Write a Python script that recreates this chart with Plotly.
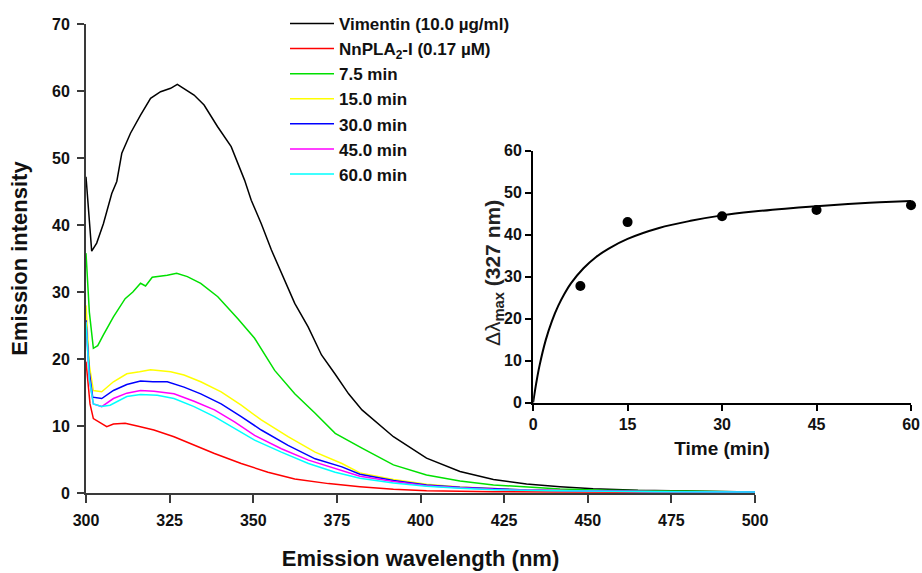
import plotly.graph_objects as go

# ---------------- main spectra data ----------------
wl_vim = [300, 301, 301.7, 303.2, 305.2, 307.7, 309.2, 310.7, 313.3, 316.3, 319.3, 322.3, 325.3, 327.3,
          329.8, 332.3, 335.3, 339.3, 343.4, 347.4, 349.4, 352.4, 355.4, 359.4, 362.4, 366.4, 370.4,
          374.4, 378.5, 382.5, 391.9, 401.8, 411.8, 421.8, 431.7, 441.7, 451.6, 465, 480, 500]
int_vim = [47.2, 40.0, 36.1, 37.3, 40.2, 44.7, 46.5, 50.7, 53.7, 56.4, 58.9, 59.9, 60.4, 61.0,
           60.2, 59.4, 57.9, 54.7, 51.7, 46.7, 43.7, 40.2, 36.3, 31.8, 28.3, 24.8, 20.6,
           17.8, 14.8, 12.4, 8.4, 5.2, 3.2, 2.0, 1.34, 0.95, 0.65, 0.4, 0.25, 0.15]

wl_pla = [300, 301.2, 302.2, 304.2, 306.2, 308.2, 311.7, 315.3, 320.3, 326.3, 332.3, 338.4, 346.4,
          354.4, 362.4, 372.5, 381.9, 391.9, 401.8, 411.8, 421.8, 440, 460, 480, 500]
int_pla = [19.6, 13.3, 11.1, 10.5, 9.9, 10.3, 10.4, 10.0, 9.4, 8.4, 7.1, 5.9, 4.4,
           3.1, 2.1, 1.4, 0.95, 0.55, 0.35, 0.25, 0.2, 0.15, 0.1, 0.1, 0.1]

wl_t75 = [300, 301, 302.2, 303.5, 305.2, 308.2, 311.7, 314, 316.3, 317.8, 319.8, 324.3, 327.1, 330.3,
          334.3, 339.4, 345.4, 350.4, 356.4, 362.4, 368.5, 374.5, 382.5, 391.9, 401.8, 411.8, 421.8,
          431.7, 441.7, 455, 470, 485, 500]
int_t75 = [35.8, 27.0, 21.6, 22.0, 23.6, 26.3, 29.0, 30.0, 31.3, 30.9, 32.2, 32.5, 32.8, 32.3,
           31.3, 29.3, 26.0, 23.1, 18.3, 14.8, 11.9, 8.9, 6.7, 4.2, 2.7, 1.8, 1.2,
           0.85, 0.6, 0.4, 0.3, 0.2, 0.15]

wl_t15 = [300, 301, 302.2, 304.7, 308.2, 312.2, 316, 319.3, 325.3, 329.3, 334.3, 340.4, 346.4, 352.4,
          360.4, 368.5, 376.5, 381.9, 391.9, 401.8, 411.8, 421.8, 431.7, 445, 460, 480, 500]
int_t15 = [28.0, 19.0, 15.3, 15.1, 16.6, 17.8, 18.1, 18.4, 18.1, 17.6, 16.6, 15.1, 13.1, 10.9,
           8.4, 6.1, 4.4, 3.0, 2.0, 1.3, 0.9, 0.65, 0.45, 0.35, 0.25, 0.2, 0.15]

wl_t30 = [300, 301, 302, 304.7, 308.2, 312.2, 316.3, 320, 324.3, 329.3, 334.3, 340.4, 346.4, 352.4,
          360.4, 368.5, 376.5, 381.9, 391.9, 401.8, 411.8, 421.8, 431.7, 445, 460, 480, 500]
int_t30 = [25.8, 18.0, 14.3, 14.1, 15.3, 16.2, 16.7, 16.6, 16.6, 15.8, 14.8, 13.3, 11.4, 9.4,
           7.1, 5.1, 3.9, 2.8, 1.85, 1.2, 0.85, 0.6, 0.45, 0.35, 0.25, 0.2, 0.15]

wl_t45 = [300, 301, 302.2, 304.7, 308.2, 312.2, 316.3, 320.3, 326.3, 332.3, 338.4, 344.4, 350.4,
          358.4, 366.5, 374.5, 381.9, 391.9, 401.8, 411.8, 421.8, 435, 450, 470, 500]
int_t45 = [25.5, 17.0, 13.3, 12.9, 14.1, 14.9, 15.3, 15.2, 14.8, 13.7, 12.4, 10.6, 8.6,
           6.6, 4.9, 3.6, 2.5, 1.7, 1.1, 0.8, 0.55, 0.4, 0.3, 0.2, 0.15]

wl_t60 = [300, 301, 302.2, 304.7, 307.2, 312.2, 316.3, 321.3, 326.3, 332.3, 338.4, 344.4, 350.4,
          358.4, 366.5, 374.5, 381.9, 391.9, 401.8, 411.8, 421.8, 435, 450, 470, 500]
int_t60 = [25.5, 17.0, 13.3, 12.9, 13.1, 14.4, 14.7, 14.6, 14.1, 12.9, 11.4, 9.6, 7.9,
           6.1, 4.4, 3.1, 2.2, 1.5, 1.0, 0.7, 0.5, 0.38, 0.28, 0.2, 0.15]

series_names = ["Vimentin (10.0 µg/ml)", "NnPLA<sub>2</sub>-I (0.17 µM)", "7.5 min", "15.0 min",
                "30.0 min", "45.0 min", "60.0 min"]
series_colors = ["#000000", "#ff0000", "#00e000", "#ffff00", "#0000ff", "#ff00ff", "#00ffff"]

# ---------------- inset data ----------------
time_pts = [7.5, 15, 30, 45, 60]
shift_pts = [27.8, 43.0, 44.4, 45.9, 47.0]
time_fit = [0, 0.5, 1, 2, 3, 4, 5, 6, 8, 10, 12, 15, 20, 25, 30, 35, 40, 45, 50, 55, 60]
shift_fit = [0, 4.7, 8.7, 14.9, 19.5, 23.1, 26.0, 28.4, 32.0, 34.7, 36.7, 39.0, 41.6, 43.3,
             44.6, 45.5, 46.2, 46.8, 47.3, 47.7, 48.0]

main_xticks = [300, 325, 350, 375, 400, 425, 450, 475, 500]
main_yticks = [0, 10, 20, 30, 40, 50, 60, 70]
inset_xticks = [0, 15, 30, 45, 60]
inset_yticks = [0, 10, 20, 30, 40, 50, 60]

FONT = "Arial, 'Liberation Sans', sans-serif"
AXC = "#3a3a3a"

fig = go.Figure()
xs = [wl_vim, wl_pla, wl_t75, wl_t15, wl_t30, wl_t45, wl_t60]
ys = [int_vim, int_pla, int_t75, int_t15, int_t30, int_t45, int_t60]
for i, (x, y) in enumerate(zip(xs, ys)):
    fig.add_trace(go.Scatter(x=x, y=y, mode="lines", name=series_names[i],
                             line=dict(color=series_colors[i], width=1.5),
                             legendgroup=f"g{i}", xaxis="x", yaxis="y"))

fig.add_trace(go.Scatter(x=time_fit, y=shift_fit, mode="lines", line=dict(color="black", width=2),
                         line_shape="spline", showlegend=False, xaxis="x2", yaxis="y2"))
fig.add_trace(go.Scatter(x=time_pts, y=shift_pts, mode="markers",
                         marker=dict(color="black", size=10), cliponaxis=False,
                         showlegend=False, xaxis="x2", yaxis="y2"))

tickf = dict(family=FONT, size=16, color="#111", weight="bold")
fig.update_layout(
    width=922, height=573,
    margin=dict(l=86, r=8, t=0, b=80, autoexpand=False),
    paper_bgcolor="white", plot_bgcolor="white",
    font=dict(family=FONT, color="#111"),
    xaxis=dict(domain=[0, 0.808], range=[300, 500], tickvals=main_xticks, showgrid=False,
               zeroline=False, showline=True, linecolor=AXC, linewidth=2, automargin=False,
               ticks="outside", ticklen=8, tickwidth=1.5, tickcolor=AXC, tickfont=tickf,
               ticklabelstandoff=4,
               title=dict(text="Emission wavelength (nm)", standoff=22,
                          font=dict(family=FONT, size=22, color="#111", weight="bold"))),
    yaxis=dict(domain=[0, 0.9513], range=[0, 70], tickvals=main_yticks, showgrid=False,
               zeroline=False, showline=True, linecolor=AXC, linewidth=2, automargin=False,
               ticks="outside", ticklen=7, tickwidth=1.5, tickcolor=AXC, tickfont=tickf,
               ticklabelstandoff=4,
               title=dict(text="Emission intensity", standoff=18,
                          font=dict(family=FONT, size=22, color="#111", weight="bold"))),
    xaxis2=dict(domain=[0.540, 0.9964], range=[0, 60], tickvals=inset_xticks, anchor="y2",
                showgrid=False, zeroline=False, showline=True, linecolor="black", linewidth=2,
                automargin=False,
                ticks="outside", ticklen=6, tickwidth=2, tickcolor="black", tickfont=tickf,
                title=dict(text="Time (min)", standoff=10,
                           font=dict(family=FONT, size=19, color="#111", weight="bold"))),
    yaxis2=dict(domain=[0.1832, 0.6943], range=[0, 60], tickvals=inset_yticks, anchor="x2",
                showgrid=False, zeroline=False, showline=True, linecolor="black", linewidth=2,
                automargin=False,
                ticks="outside", ticklen=6, tickwidth=2, tickcolor="black", tickfont=tickf),
    annotations=[dict(text="<span style='font-weight:normal'>Δλ</span><sub><b>max</b></sub><b> (327 nm)</b>",
                      xref="paper", yref="paper", x=(494 - 86) / 828, y=(493 - 273) / 493,
                      xanchor="center", yanchor="middle", textangle=-90, showarrow=False,
                      font=dict(family=FONT, size=21, color="#222"))],
    legend=dict(x=(285 - 86) / 828, y=0.988, xanchor="left", yanchor="top", bgcolor="rgba(0,0,0,0)",
                font=dict(family=FONT, size=17, color="#111", weight="bold"),
                traceorder="grouped", tracegroupgap=0, itemwidth=44),
    showlegend=True,
)

fig.write_html("out.html")
